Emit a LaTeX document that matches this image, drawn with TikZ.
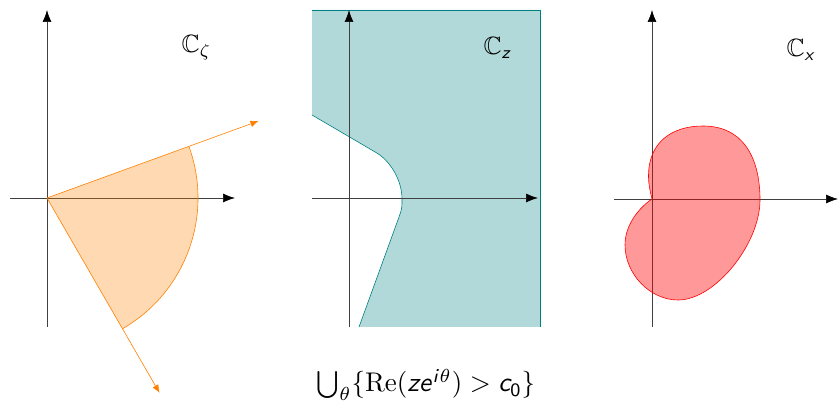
\documentclass[tikz,border=0pt]{standalone}
\usepackage{amsmath}
\usepackage{amssymb}
\usepackage{fontspec}
\DeclareMathAlphabet{\mathsfit}{OT1}{cmss}{m}{sl}
\DeclareMathAlphabet{\mathsfup}{OT1}{cmss}{m}{n}
\usetikzlibrary{arrows.meta}
\begin{document}
\begin{tikzpicture}[x=1pt,y=1pt,
  axis/.style={black!75, line width=0.7pt, -{Latex[length=12pt,width=9pt,color=black]}},
  ray/.style={orange, line width=0.6pt, -{Latex[length=8pt,width=6.5pt]}},
  lbl/.style={font=\fontsize{10}{12}\selectfont, inner sep=0pt, scale=2.5}]
\useasboundingbox (0,0) rectangle (838,404);
% ---------- panel 1 ----------
\coordinate (O1) at (47,206);
\coordinate (U1) at ([shift={(20:225)}]O1);
\coordinate (L1) at ([shift={(-60:225)}]O1);
\coordinate (A1) at ([shift={(20:151)}]O1);
\draw[axis] (10,206) -- (235,206);
\draw[axis] (47,77) -- (47,394);
\fill[orange, fill opacity=0.3] (O1) -- (A1) arc[start angle=20, end angle=-60, radius=151] -- cycle;
\draw[orange, line width=0.6pt] (A1) arc[start angle=20, end angle=-60, radius=151];
\draw[ray] (O1) -- (U1);
\draw[ray] (O1) -- (L1);
\node[lbl, anchor=base west] (c1) at (181,351) {$\mathbb{C}_\zeta$};
% ---------- panel 2 ----------
\fill[teal, fill opacity=0.3] (312,394) -- (540,394) -- (540,77) -- (359,77) -- (399,187)
  .. controls (402.2,195.8) and (402,197) .. (402,205)
  .. controls (402,224) and (390,243.5) .. (376,251.5) -- (312,289) -- cycle;
\draw[teal, line width=0.6pt] (312,394) -- (540,394) -- (540,77);
\draw[teal, line width=0.6pt] (359,77) -- (399,187)
  .. controls (402.2,195.8) and (402,197) .. (402,205)
  .. controls (402,224) and (390,243.5) .. (376,251.5) -- (312,289);
\draw[axis] (312,206) -- (538,206);
\draw[axis] (349,77) -- (349,394);
\node[lbl, anchor=base west] (c2) at (483,349) {$\mathbb{C}_{\mathsfit{z}}$};
% ---------- panel 3 ----------
\draw[axis] (614,205) -- (838,205);
\draw[axis] (652,77) -- (652,394);
\filldraw[red, line width=0.6pt, fill=red, fill opacity=0.4]
  (652,205) .. controls (650,213) and (648.5,220) .. (648.5,228)
  .. controls (648.5,262) and (672,278) .. (703,278)
  .. controls (742,278) and (760,248) .. (760,204)
  .. controls (760,160) and (715,104) .. (678,104)
  .. controls (650,104) and (625,130) .. (625,159)
  .. controls (625,180) and (640,197) .. (652,205) -- cycle;
\node[lbl, anchor=base west] (c3) at (786,347) {$\mathbb{C}_{\mathsfit{x}}$};
% ---------- formula ----------
\node[lbl, anchor=base, scale=1.08] (f) at (426,12)
  {$\bigcup_\theta\{\mathrm{Re}(\mathsfit{ze}^{\mathsfit{i}\theta}) > \mathsfit{c}_{\mathsfup{0}}\}$};
\end{tikzpicture}
\end{document}
